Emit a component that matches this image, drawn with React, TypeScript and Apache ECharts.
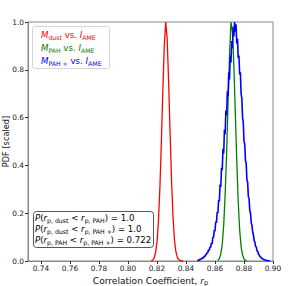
import React, { useEffect, useRef } from "react";
import * as echarts from "echarts";

// Histogram bin widths and bin starts (x of first value)
const BIN = 0.001;
const BLUE_BIN = 0.0005;
const RED_START = 0.816;
const GREEN_START = 0.862;
const BLUE_START = 0.848;

// PDF values (scaled to peak = 1)
const redPdf = [
  0.001, 0.004, 0.012, 0.035, 0.08, 0.17, 0.31, 0.5, 0.71, 0.9, 1.0, 0.93,
  0.75, 0.54, 0.34, 0.19, 0.09, 0.04, 0.015, 0.006, 0.002, 0.001, 0,
];
const greenPdf = [
  0.003, 0.01, 0.03, 0.07, 0.15, 0.28, 0.45, 0.66, 0.86, 1.0, 0.96, 0.82, 0.62,
  0.42, 0.25, 0.13, 0.06, 0.025, 0.008, 0.002, 0,
];
const bluePdf = [
  0.0, 0.004, 0.003, 0.007, 0.006, 0.01, 0.009, 0.015, 0.012, 0.02, 0.018,
  0.028, 0.025, 0.036, 0.034, 0.047, 0.044, 0.058, 0.057, 0.075, 0.072, 0.098,
  0.1, 0.128, 0.125, 0.165, 0.16, 0.205, 0.2, 0.255, 0.25, 0.32, 0.31, 0.39,
  0.38, 0.47, 0.45, 0.55, 0.53, 0.63, 0.61, 0.71, 0.69, 0.79, 0.76, 0.86, 0.83,
  0.92, 0.89, 0.98, 0.94, 1.0, 0.96, 0.99, 0.91, 0.93, 0.85, 0.86, 0.78, 0.79,
  0.7, 0.68, 0.6, 0.58, 0.5, 0.49, 0.42, 0.41, 0.34, 0.33, 0.27, 0.26, 0.21,
  0.2, 0.16, 0.15, 0.12, 0.11, 0.085, 0.08, 0.06, 0.058, 0.042, 0.04, 0.028,
  0.026, 0.018, 0.017, 0.012, 0.011, 0.008, 0.007, 0.005, 0.004, 0.003, 0.003,
  0.002, 0.001, 0.001, 0, 0,
];

const xTicks = [0.74, 0.76, 0.78, 0.8, 0.82, 0.84, 0.86, 0.88, 0.9];
const X_MIN = 0.731;
const X_MAX = 0.9;

const FONT = "DejaVu Sans";

function toPairs(start: number, step: number, vals: number[]) {
  return vals.map((v, i) => [+(start + i * step).toFixed(5), v]);
}

const TXT = 8.6;
const SUB = 6.2;

function richStyles(color: string) {
  return {
    i: { fill: color, fontSize: TXT, fontFamily: FONT, fontStyle: "italic", lineHeight: 11, verticalAlign: "middle" },
    n: { fill: color, fontSize: TXT, fontFamily: FONT, lineHeight: 11, verticalAlign: "middle" },
    s: { fill: color, fontSize: SUB, fontFamily: FONT, lineHeight: 7, verticalAlign: "bottom" },
  };
}

export default function App() {
  const ref = useRef<HTMLDivElement>(null);
  useEffect(() => {
    document.body.style.margin = "0";
    const chart = echarts.init(ref.current!, null, { renderer: "svg" });
    const legendItems = [
      { color: "#ff0000", text: "{i|M}{s|dust}{n| vs. }{i|I}{s|AME}" },
      { color: "#008000", text: "{i|M}{s|PAH}{n| vs. }{i|I}{s|AME}" },
      { color: "#0000ff", text: "{i|M}{s|PAH +}{n| vs. }{i|I}{s|AME}" },
    ];
    const probLines = [
      "{i|P}{n|(}{i|r}{s|p, dust}{n| < }{i|r}{s|p, PAH}{n|) = 1.0}",
      "{i|P}{n|(}{i|r}{s|p, dust}{n| < }{i|r}{s|p, PAH +}{n|) = 1.0}",
      "{i|P}{n|(}{i|r}{s|p, PAH}{n| < }{i|r}{s|p, PAH +}{n|) = 0.722}",
    ];
    const legendY = [34.5, 47.8, 61];
    const probY = [217.5, 228.5, 239.5];
    const graphic: any[] = [
      {
        type: "rect",
        shape: { x: 32.5, y: 26.5, width: 77, height: 42, r: 2 },
        style: { fill: "rgba(255,255,255,0.8)", stroke: "#d6d6d6", lineWidth: 1 },
        z: 10,
      },
      ...legendItems.map((it, k) => ({
        type: "text",
        x: 41,
        y: legendY[k],
        z: 11,
        style: { text: it.text, rich: richStyles(it.color), verticalAlign: "middle", align: "left" },
      })),
      {
        type: "rect",
        shape: { x: 33.5, y: 211.5, width: 120, height: 36, r: 3 },
        style: { fill: "#ffffff", stroke: "#444", lineWidth: 0.9 },
        z: 10,
      },
      ...probLines.map((t, k) => ({
        type: "text",
        x: 35,
        y: probY[k],
        z: 11,
        style: { text: t, rich: richStyles("#000"), verticalAlign: "middle", align: "left" },
      })),
    ];

    chart.setOption({
      animation: false,
      grid: { left: 28, top: 22, right: 20, bottom: 25, show: true, borderColor: "#888", borderWidth: 1, outerBoundsMode: "none" },
      xAxis: {
        type: "value",
        min: X_MIN,
        max: X_MAX,
        splitLine: { show: false },
        axisLine: { show: true, lineStyle: { color: "#888", width: 1 } },
        axisTick: { show: true, length: 3, lineStyle: { color: "#333" }, customValues: xTicks },
        axisLabel: {
          customValues: xTicks,
          formatter: (v: number) => v.toFixed(2),
          fontSize: 7.4,
          fontFamily: FONT,
          color: "#222",
          margin: 4,
        },
        name: "{n|Correlation Coefficient, }{i|r}{s|p}",
        nameLocation: "middle",
        nameGap: 14,
        nameMoveOverlap: false,
        nameTextStyle: {
          rich: {
            n: { fontSize: 9.1, fontFamily: FONT, color: "#111", lineHeight: 11, verticalAlign: "middle" },
            i: { fontSize: 9.1, fontFamily: FONT, color: "#111", fontStyle: "italic", lineHeight: 11, verticalAlign: "middle" },
            s: { fontSize: 6.5, fontFamily: FONT, color: "#111", lineHeight: 7, verticalAlign: "bottom" },
          },
        },
      },
      yAxis: {
        type: "value",
        min: 0,
        max: 1,
        interval: 0.2,
        splitLine: { show: false },
        axisLine: { show: true, lineStyle: { color: "#888", width: 1 } },
        axisTick: { show: true, length: 3, lineStyle: { color: "#333" } },
        axisLabel: {
          formatter: (v: number) => v.toFixed(1),
          fontSize: 7.4,
          fontFamily: FONT,
          color: "#222",
          margin: 4,
        },
        name: "PDF [scaled]",
        nameLocation: "middle",
        nameGap: 18,
        nameMoveOverlap: false,
        nameTextStyle: { fontSize: 8.2, fontFamily: FONT, color: "#111" },
      },
      series: [
        { type: "line", data: toPairs(RED_START, BIN, redPdf), showSymbol: false, lineStyle: { color: "#ff0000", width: 1.3 }, itemStyle: { color: "#ff0000" } },
        { type: "line", data: toPairs(GREEN_START, BIN, greenPdf), showSymbol: false, lineStyle: { color: "#008000", width: 1.3 }, itemStyle: { color: "#008000" } },
        { type: "line", data: toPairs(BLUE_START, BLUE_BIN, bluePdf), showSymbol: false, lineStyle: { color: "#0000ff", width: 1.6 }, itemStyle: { color: "#0000ff" } },
      ],
      graphic,
    });
    return () => chart.dispose();
  }, []);
  return <div ref={ref} style={{ width: 293, height: 286 }} />;
}
